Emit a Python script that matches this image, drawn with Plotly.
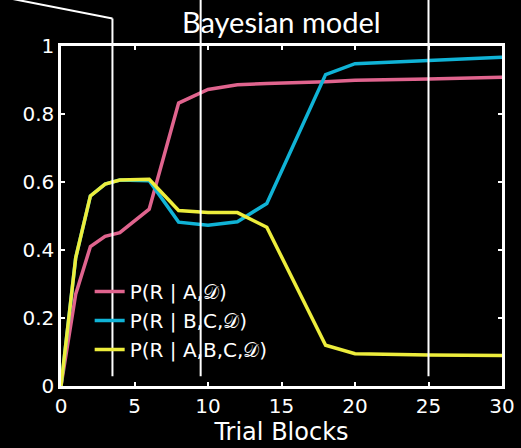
import plotly.graph_objects as go

# Trial blocks at which the model posterior was evaluated
blocks = [0, 1, 2, 3, 4, 6, 8, 10, 12, 14, 18, 20, 25, 30]

# Posterior probability of reward for each cue combination
p_a = [0, 0.27, 0.41, 0.44, 0.451, 0.52, 0.832, 0.872, 0.886, 0.89, 0.895, 0.899, 0.903, 0.908]
p_bc = [0, 0.377, 0.559, 0.594, 0.606, 0.604, 0.482, 0.473, 0.483, 0.537, 0.916, 0.948, 0.957, 0.967]
p_abc = [0, 0.377, 0.559, 0.594, 0.606, 0.608, 0.516, 0.51, 0.51, 0.467, 0.12, 0.095, 0.091, 0.09]

series_names = ["P(R | A,𝒟)", "P(R | B,C,𝒟)", "P(R | A,B,C,𝒟)"]
series_colors = ["#e0648e", "#10b3d6", "#eded3c"]

# Block boundaries marked with vertical rules
markers = [3.5, 9.5, 25]

x_ticks = [0, 5, 10, 15, 20, 25, 30]
y_ticks = [0, 0.2, 0.4, 0.6, 0.8, 1]

X_RANGE = [0, 30]
Y_RANGE = [0, 1]


def px(v):
    return (v - X_RANGE[0]) / (X_RANGE[1] - X_RANGE[0])


def py(v):
    return (v - Y_RANGE[0]) / (Y_RANGE[1] - Y_RANGE[0])


tick_font = dict(family="DejaVu Sans", size=20, color="white")

fig = go.Figure()
for name, ys, col in zip(series_names, [p_a, p_bc, p_abc], series_colors):
    fig.add_trace(go.Scatter(x=blocks, y=ys, mode="lines", name=name,
                             line=dict(color=col, width=3.5)))

shapes = []
for i, m in enumerate(markers):
    top = 1.081 if i == 0 else 1.2
    shapes.append(dict(type="line", xref="paper", yref="paper",
                       x0=px(m), x1=px(m), y0=0.029, y1=top,
                       line=dict(color="white", width=2)))
# pointer leading into the first rule
shapes.append(dict(type="line", xref="paper", yref="paper",
                   x0=-0.14, y0=1.146, x1=px(markers[0]), y1=1.081,
                   line=dict(color="white", width=2)))

axis_common = dict(showgrid=False, zeroline=False, showline=True, linecolor="white",
                   linewidth=2.5, mirror="ticks", ticks="inside", ticklen=4,
                   tickwidth=2, tickcolor="white", tickfont=tick_font, automargin=False)

fig.update_layout(
    width=521, height=448,
    paper_bgcolor="black", plot_bgcolor="black",
    margin=dict(l=61, r=19, t=46, b=62),
    title=dict(text="Bayesian model", x=0.54, xanchor="center", y=0.95, yanchor="middle",
               font=dict(family="Lato", size=29, color="white")),
    xaxis=dict(range=X_RANGE, tickvals=x_ticks, title=dict(text="Trial Blocks",
               font=dict(family="DejaVu Sans", size=24, color="white"), standoff=6),
               **axis_common),
    yaxis=dict(range=Y_RANGE, tickvals=y_ticks, ticktext=[f"{v:g}" for v in y_ticks],
               **axis_common),
    legend=dict(x=0.065, y=0.335, xanchor="left", yanchor="top", bgcolor="rgba(0,0,0,0)",
                font=dict(family="DejaVu Sans", size=20, color="white"),
                tracegroupgap=0, itemwidth=30),
    shapes=shapes,
)

fig.write_html("out.html")
